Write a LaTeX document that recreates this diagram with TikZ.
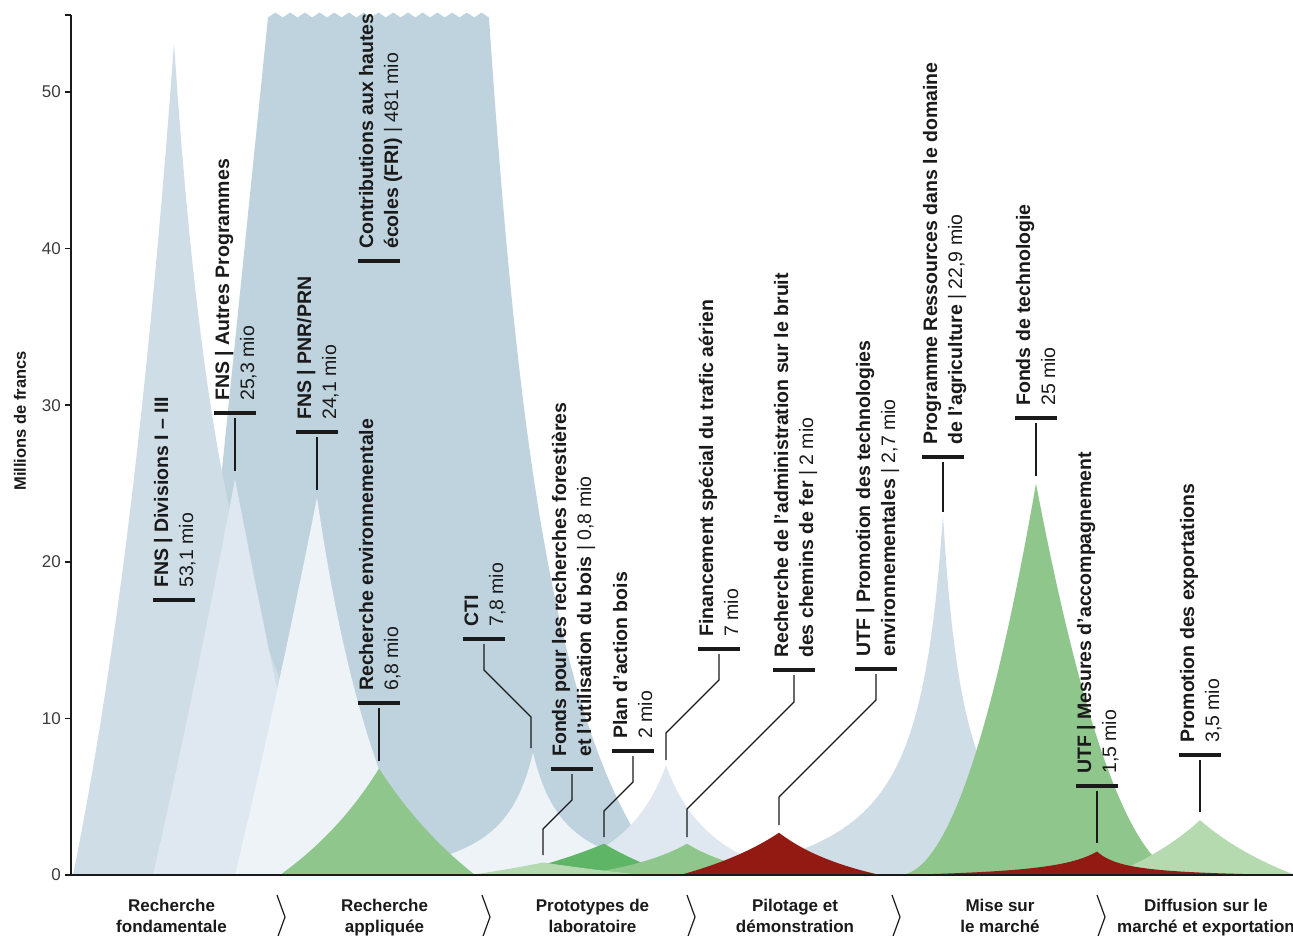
\documentclass[tikz,border=0pt]{standalone}
\usepackage{fontspec}
\setmainfont{Liberation Sans}
\definecolor{cFRI}{HTML}{BFD3DF}
\definecolor{cDiv}{HTML}{CFDDE7}
\definecolor{cAut}{HTML}{DFE8F0}
\definecolor{cPNR}{HTML}{EDF3F7}
\definecolor{gMed}{HTML}{8FC68B}
\definecolor{gDark}{HTML}{5DB565}
\definecolor{gPale}{HTML}{B6DAB0}
\definecolor{dRed}{HTML}{931A12}
\definecolor{ink}{HTML}{1A1A1A}
\newcommand\labsize{\fontsize{19.5}{23}\selectfont}
% peak: #1 colour, #2 x0, #3 value, #4 WL, #5 pL, #6 cL, #7 WR, #8 pR, #9 cR
\newcommand\peak[9]{%
  \pgfmathsetmacro\pkH{15.66*#3}%
  \fill[#1] (#2-#4,875)
    -- plot[domain=0:#4,samples=70,variable=\xx]
       ({#2-#4+\xx},{875-\pkH*((#6)/((#6)+1-\xx/#4))*(max(\xx/#4,0.0005))^(#5)})
    -- plot[domain=0:#7,samples=70,variable=\xx]
       ({#2+\xx},{875-\pkH*((#9)/((#9)+\xx/#7))*(max(1-\xx/#7,0.0005))^(#8)})
    -- cycle;}
\tikzset{
  labtxt/.style={rotate=90,anchor=base west,inner sep=0pt,text=ink,font=\labsize},
  labbold/.style={labtxt,font=\labsize\bfseries},
  labbar/.style={draw=ink,line width=3.5pt},
  leader/.style={draw=ink,line width=1.1pt},
  axisline/.style={draw=ink,line width=1.6pt},
  ticklab/.style={anchor=east,inner sep=0pt,text=ink!85,font=\fontsize{17}{20}\selectfont},
  stage/.style={font=\fontsize{17}{21.5}\selectfont\bfseries,align=center,anchor=north,inner sep=0pt,text=ink},
  chev/.style={draw=ink,line width=1.2pt},
}
\newcommand\lbl[5]{%
  \draw[labbar] (#2-21,#3) -- (#2+21,#3);
  \node[labbold] (#1a) at (#2-6,#3-12) {#4};
  \node[labtxt] (#1b) at (#2+19,#3-12) {#5};
  \coordinate (#1) at (#2,#3+5);}
\begin{document}
\begin{tikzpicture}[x=1pt,y=-1pt]
\useasboundingbox (0,0) rectangle (1293,935);
\fill[white] (0,0) rectangle (1293,935);
% FRI (cut off at the top)
\fill[cFRI] (140,875) .. controls (190,750) and (215,540) .. (224,450) -- (268,17.5)
   foreach \i in {0,...,14} { -- ({268+14.73*\i+7.37},12.5) -- ({268+14.73*(\i+1)},17.5) }
   .. controls (515,400) and (550,740) .. (665,875) -- cycle;
% peaks, back to front
\peak{cDiv}{174}{53.1}{101}{1}{1.5}{260}{1}{0.27}
\peak{cAut}{235}{25.3}{82}{1}{10}{83}{1}{10}
\peak{cPNR}{317}{24.1}{82}{1}{10}{110}{1}{1}
\peak{cPNR}{533}{7.8}{200}{1}{0.17}{200}{1}{0.17}
\peak{gMed}{379}{6.8}{99}{1}{2}{96}{1}{2.5}
\peak{cAut}{666}{7}{130}{1}{0.45}{130}{1}{0.45}
\peak{gDark}{604}{2}{100}{1}{3}{70}{1}{3}
\peak{gMed}{687}{2}{110}{1}{1}{100}{1}{1}
\peak{gPale}{543}{0.8}{73}{1}{5}{100}{1}{5}
\peak{cDiv}{943}{22.9}{250}{1}{0.11}{200}{1}{0.12}
\peak{dRed}{779}{2.7}{99}{1}{1.8}{101}{1}{1.2}
\peak{gMed}{1036}{25}{137}{2}{100}{150}{2}{100}
\peak{gPale}{1200}{3.5}{90}{1}{2}{95}{1}{2}
\peak{dRed}{1097}{1.5}{200}{1}{0.25}{196}{1}{0.15}
% axes
\draw[axisline] (71,15) -- (71,875) -- (1293,875);
\draw[axisline] (65,15) -- (71,15);
\foreach \v in {0,...,5} {
  \draw[axisline] (65,875-156.6*\v) -- (71,875-156.6*\v);
  \pgfmathtruncatemacro\tv{10*\v}
  \node[ticklab] (t\v) at (61,875-156.6*\v) {\tv};
}
\node[rotate=90,inner sep=0pt,text=ink,font=\fontsize{16.5}{20}\selectfont\bfseries] (ylab) at (20,421) {Millions de francs};
% labels
\lbl{fnsD}{174}{600}{FNS | Divisions I – III}{53,1 mio}
\lbl{fnsA}{235}{413}{FNS | Autres Programmes}{25,3 mio}
\lbl{fnsP}{317}{432}{FNS | PNR/PRN}{24,1 mio}
\lbl{renv}{379}{703}{Recherche environnementale}{6,8 mio}
\lbl{fri}{379}{261}{Contributions aux hautes}{\textbf{écoles (FRI)} | 481 mio}
\lbl{cti}{484}{639}{CTI}{7,8 mio}
\lbl{bois}{572}{769}{Fonds pour les recherches forestières}{\textbf{et l’utilisation du bois} | 0,8 mio}
\lbl{plan}{633}{751}{Plan d’action bois}{2 mio}
\lbl{fin}{719}{649}{Financement spécial du trafic aérien}{7 mio}
\lbl{cfer}{794}{670}{Recherche de l’administration sur le bruit}{\textbf{des chemins de fer} | 2 mio}
\lbl{utfp}{876}{669}{UTF | Promotion des technologies}{\textbf{environnementales} | 2,7 mio}
\lbl{agri}{943}{457}{Programme Ressources dans le domaine}{\textbf{de l’agriculture} | 22,9 mio}
\lbl{ftech}{1036}{418}{Fonds de technologie}{25 mio}
\lbl{utfm}{1097}{786}{UTF | Mesures d’accompagnement}{1,5 mio}
\lbl{expo}{1200}{755}{Promotion des exportations}{3,5 mio}
% leaders
\draw[leader] (fnsA) -- (235,471);
\draw[leader] (fnsP) -- (317,490);
\draw[leader] (renv) -- (379,761);
\draw[leader] (cti) -- (484,670) -- (531,717) -- (531,748);
\draw[leader] (bois) -- (572,800) -- (543,829) -- (543,855);
\draw[leader] (plan) -- (633,782) -- (604,811) -- (604,837);
\draw[leader] (fin) -- (719,680) -- (666,733) -- (666,760);
\draw[leader] (cfer) -- (794,702) -- (687,809) -- (687,837);
\draw[leader] (utfp) -- (876,700) -- (779,797) -- (779,825);
\draw[leader] (agri) -- (943,512);
\draw[leader] (ftech) -- (1036,476);
\draw[leader] (utfm) -- (1097,843);
\draw[leader] (expo) -- (1200,812);
% stages
\node[stage] (st1) at (171.5,898.5) {Recherche\\fondamentale};
\node[stage] (st2) at (384.5,898.5) {Recherche\\appliquée};
\node[stage] (st3) at (592.5,898.5) {Prototypes de\\laboratoire};
\node[stage] (st4) at (795,898.5) {Pilotage et\\démonstration};
\node[stage] (st5) at (1000,898.5) {Mise sur\\le marché};
\node[stage] (st6) at (1206,898.5) {Diffusion sur le\\marché et exportation};
\foreach \cx in {277,482,687,892,1097} {
  \draw[chev] (\cx,895) -- (\cx+8,917) -- (\cx,939);
}
\end{tikzpicture}
\end{document}
